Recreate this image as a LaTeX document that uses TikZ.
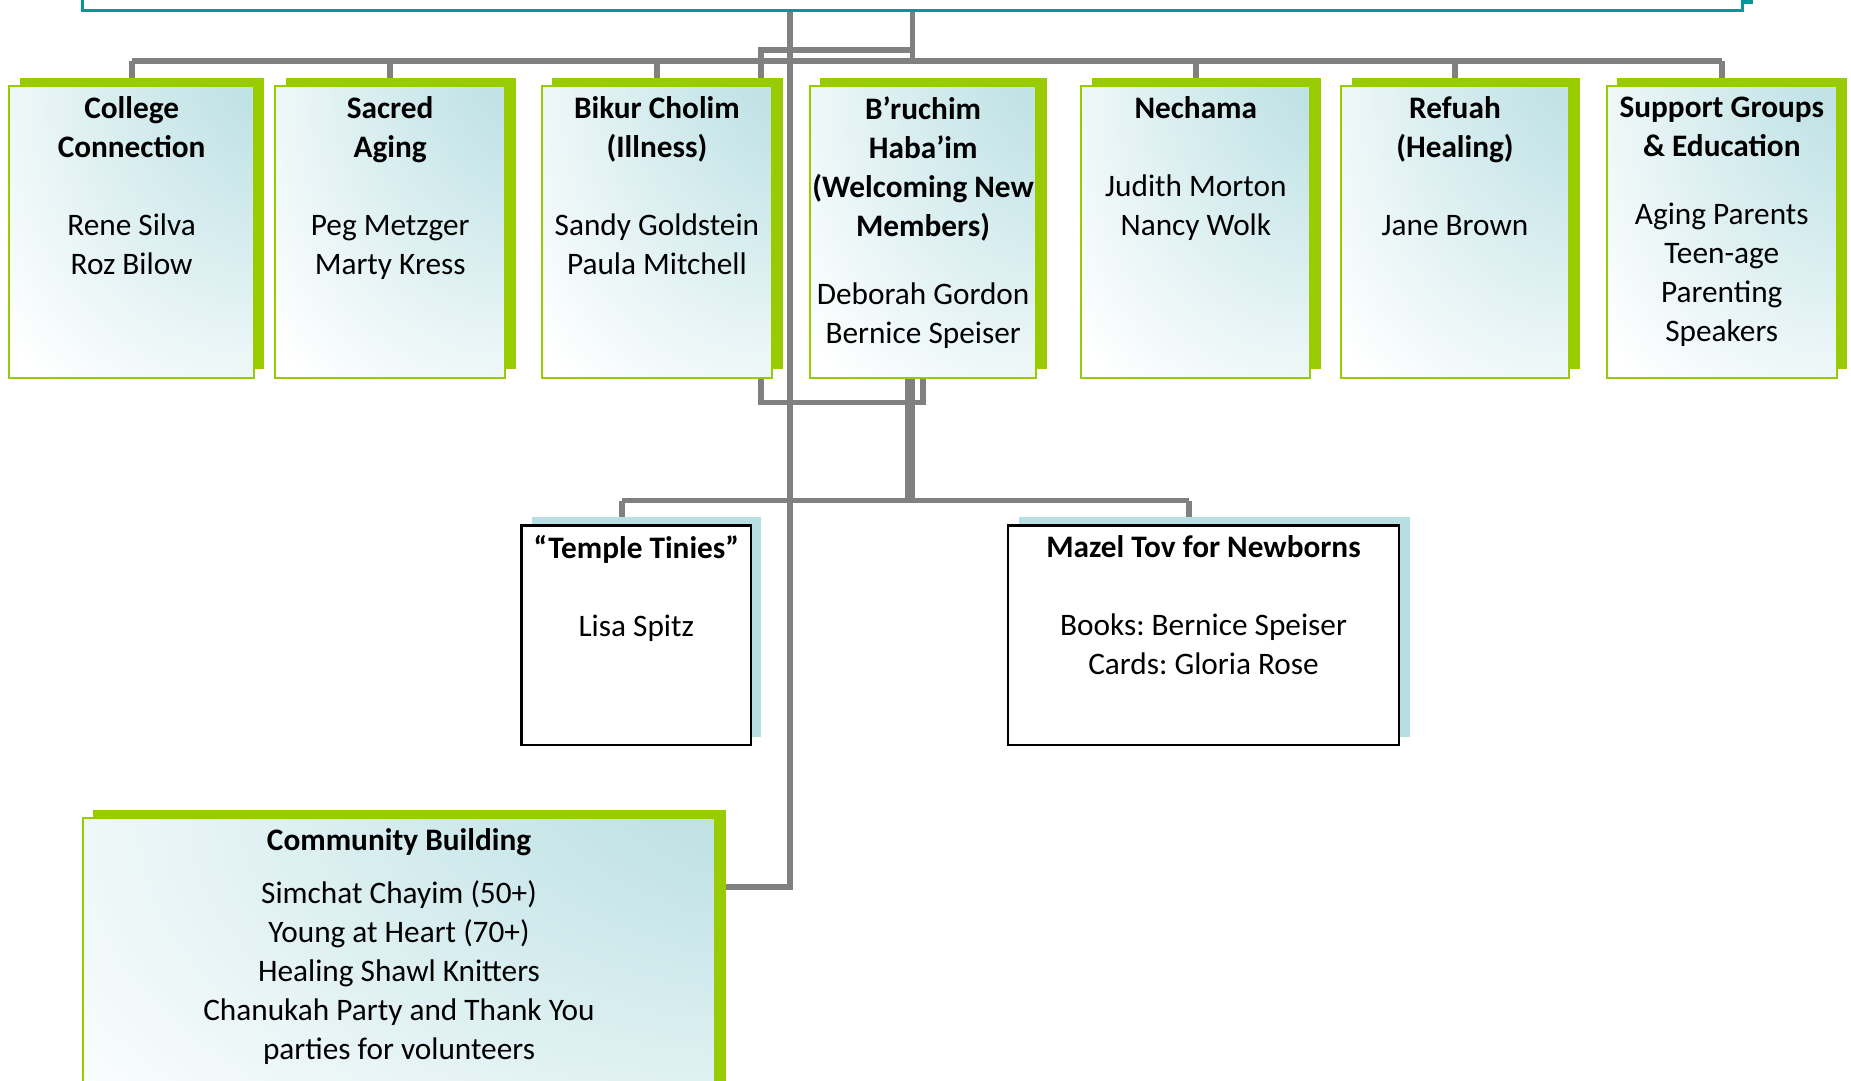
\documentclass[tikz,border=0pt]{standalone}
\usepackage{fontspec}
\setmainfont{Carlito}
\usepackage{tikz}
\usetikzlibrary{positioning, shadows, backgrounds}
\definecolor{conngray}{RGB}{128,128,128}
\definecolor{leaf}{RGB}{153,204,0}
\definecolor{tealbg}{RGB}{183,222,226}
\definecolor{headteal}{RGB}{0,153,153}
\pgfdeclareradialshading{corner}{\pgfpoint{45bp}{45bp}}{color(0bp)=(tealbg); color(20bp)=(tealbg!85!white); color(58bp)=(white); color(100bp)=(white)}
\tikzstyle{unit}=[draw=leaf, line width=1.7pt, shading=corner, inner sep=0pt, drop shadow={shadow xshift=9pt, shadow yshift=7pt, fill=leaf, opacity=1}]
\tikzstyle{cell}=[draw=black, line width=2.2pt, fill=white, inner sep=0pt, minimum height=186pt, drop shadow={shadow xshift=9pt, shadow yshift=7pt, fill=tealbg, opacity=1}]
\tikzstyle{head}=[draw=headteal, line width=2.5pt, fill=white, inner sep=0pt, drop shadow={shadow xshift=9pt, shadow yshift=6pt, fill=headteal, opacity=1}]
\tikzstyle{lbl}=[align=center, inner sep=0pt, font=\fontsize{26.5}{33}\selectfont\frenchspacing]
\tikzstyle{conn}=[draw=conngray, line width=5pt]

\begin{document}
\begin{tikzpicture}[x=1pt, y=-1pt]
\useasboundingbox (0,0) rectangle (1568,915);
\clip (0,0) rectangle (1568,915);
\node[head, minimum width=1406pt, minimum height=209pt] (H) at (773,-95.5) {};
% top row
\node[unit, minimum width=207pt, minimum height=247pt] (CC) at (111.5,196.5) {};
\node[unit, minimum width=195pt, minimum height=247pt] (SA) at (330.5,196.5) {};
\node[unit, minimum width=195pt, minimum height=247pt] (BC) at (556.5,196.5) {};
\node[unit, minimum width=192pt, minimum height=247pt] (BH) at (782,196.5) {};
\node[unit, minimum width=194pt, minimum height=247pt] (NE) at (1013,196.5) {};
\node[unit, minimum width=193pt, minimum height=247pt] (RE) at (1232.5,196.5) {};
\node[unit, minimum width=195pt, minimum height=247pt] (SG) at (1458.5,196.5) {};
\node[lbl, below=9.5pt of CC.north] {\textbf{College}\\\textbf{Connection}\\[33pt]Rene Silva\\Roz Bilow};
\node[lbl, below=9.5pt of SA.north] {\textbf{Sacred}\\\textbf{Aging}\\[33pt]Peg Metzger\\Marty Kress};
\node[lbl, below=9.5pt of BC.north] {\textbf{Bikur Cholim}\\\textbf{(Illness)}\\[33pt]Sandy Goldstein\\Paula Mitchell};
\node[lbl, below=9.5pt of BH.north] {\textbf{B’ruchim}\\\textbf{Haba’im}\\\textbf{(Welcoming New}\\\textbf{Members)}\\[25pt]Deborah Gordon\\Bernice Speiser};
\node[lbl, below=9.5pt of NE.north] {\textbf{Nechama}\\[33pt]Judith Morton\\Nancy Wolk};
\node[lbl, below=9.5pt of RE.north] {\textbf{Refuah}\\\textbf{(Healing)}\\[33pt]Jane Brown};
\node[lbl, below=9.5pt of SG.north] {\textbf{Support Groups}\\\textbf{\& Education}\\[25pt]Aging Parents\\Teen-age\\Parenting\\Speakers};
% second row
\node[cell, minimum width=194pt] (TT) at (539,538) {};
\node[cell, minimum width=331pt] (MT) at (1019.5,538) {};
\node[lbl, below=9.5pt of TT.north] {\textbf{“Temple Tinies”}\\[33pt]Lisa Spitz};
\node[lbl, below=9.5pt of MT.north] {\textbf{Mazel Tov for Newborns}\\[33pt]Books: Bernice Speiser\\Cards: Gloria Rose};
% community
\node[unit, minimum width=536pt, minimum height=307pt] (CB) at (338,846.5) {};
\node[lbl, below=9.5pt of CB.north] {\textbf{Community Building}\\[12pt]Simchat Chayim (50+)\\Young at Heart (70+)\\Healing Shawl Knitters\\Chanukah Party and Thank You\\parties for volunteers};

\begin{scope}[on background layer]
\coordinate (bar) at (0,52);
\coordinate (bar2) at (0,424);
\coordinate (spine) at (669,0);
\draw[conn] (H.south) -- (H.south |- bar);
\draw[conn] (CC.north |- bar) -- (SG.north |- bar);
\foreach \n in {CC,SA,BC,NE,RE,SG} \draw[conn] (\n.north |- bar) -- (\n.north);
\draw[conn] ([yshift=-32pt]H.south) -| (645,341) -| (BH.south);
\draw[conn] (H.south -| spine) |- ([yshift=-59pt]CB.north east);
\draw[conn, line width=8.5pt] ([xshift=-11pt]BH.south) -- ([xshift=-11pt]BH.south |- bar2);
\draw[conn] ([xshift=-12pt]TT.north |- bar2) -- ([xshift=-12pt]MT.north |- bar2);
\draw[conn] ([xshift=-12pt]TT.north |- bar2) -- ([xshift=-12pt]TT.north);
\draw[conn] ([xshift=-12pt]MT.north |- bar2) -- ([xshift=-12pt]MT.north);
\end{scope}
\end{tikzpicture}
\end{document}
